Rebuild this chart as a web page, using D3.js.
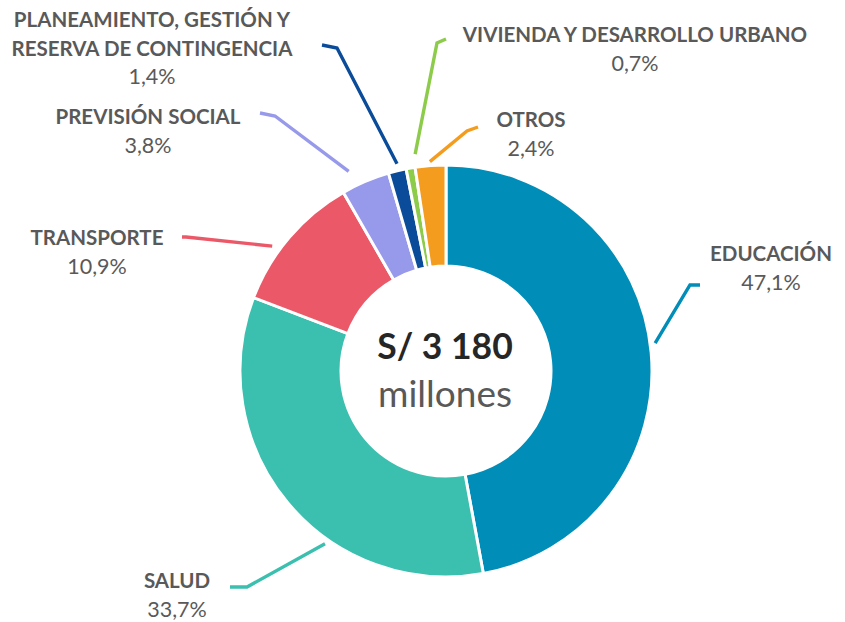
<!DOCTYPE html>
<html>
<head>
<meta charset="utf-8">
<script src="https://cdn.jsdelivr.net/npm/d3@7"></script>
<style>
  html, body { margin: 0; padding: 0; background: #fff; }
  svg { display: block; font-family: Lato, "Open Sans", sans-serif; }
</style>
</head>
<body>
<svg id="chart" width="845" height="622"></svg>
<script>
// Budget distribution by function (percent of total)
const categories = [
  "EDUCACIÓN", "SALUD", "TRANSPORTE", "PREVISIÓN SOCIAL",
  "PLANEAMIENTO, GESTIÓN Y|RESERVA DE CONTINGENCIA",
  "VIVIENDA Y DESARROLLO URBANO", "OTROS"
];
const shares = [47.1, 33.7, 10.9, 3.8, 1.4, 0.7, 2.4];
const colors = ["#008DB8", "#3BBFAF", "#EB5868", "#9799EA", "#0B4C9A", "#8DCB4A", "#F39C1E"];
const totalLabel = "S/ 3 180";
const unitLabel = "millones";

// Label placement: leader start angle (deg, clockwise from top) and radius,
// elbow point, horizontal end point, label center and first baseline.
const labelLayout = [
  { a: 82.4, r: 211, elbow: [690, 285], end: [700, 285], x: 771, y: 261 },
  { a: 215,  r: 211, elbow: [247, 587], end: [230, 587], x: 177, y: 588 },
  { a: 305.7,r: 214, elbow: [186, 237], end: [182, 237], x: 97,  y: 245 },
  { a: 334,  r: 222, elbow: [275, 116], end: [260, 113], x: 148, y: 124 },
  { a: 346.7,r: 213, elbow: [337, 48],  end: [322, 45],  x: 152, y: 27 },
  { a: 351.9,r: 219, elbow: [437, 43],  end: [446, 39],  x: 635, y: 42 },
  { a: 355.6,r: 210, elbow: [467, 131], end: [478, 127], x: 531, y: 127 }
];

const svg = d3.select("#chart");
const cx = 446, cy = 371, outerR = 206, innerR = 105;

const data = categories.map((c, i) => ({ name: c, value: shares[i], color: colors[i], layout: labelLayout[i] }));

const pie = d3.pie().sort(null).value(d => d.value);
const arc = d3.arc().innerRadius(innerR).outerRadius(outerR);

const g = svg.append("g").attr("transform", `translate(${cx},${cy})`);

g.selectAll("path.slice")
  .data(pie(data))
  .join("path")
  .attr("class", "slice")
  .attr("d", arc)
  .attr("fill", d => d.data.color)
  .attr("stroke", "#fff")
  .attr("stroke-width", 3)
  .attr("stroke-linejoin", "miter");

// Leader lines
const line = d3.line();
svg.selectAll("path.leader")
  .data(data)
  .join("path")
  .attr("class", "leader")
  .attr("d", d => {
    const L = d.layout, t = L.a * Math.PI / 180;
    const start = [cx + L.r * Math.sin(t), cy - L.r * Math.cos(t)];
    return line([start, L.elbow, L.end]);
  })
  .attr("fill", "none")
  .attr("stroke", d => d.color)
  .attr("stroke-width", 3.4);

// Category and share labels
const fmt = v => v.toFixed(1).replace(".", ",") + "%";
const lbl = svg.selectAll("g.lbl").data(data).join("g").attr("class", "lbl");
lbl.each(function(d) {
  const sel = d3.select(this);
  const lines = d.name.split("|");
  lines.forEach((t, k) => {
    sel.append("text")
      .attr("x", d.layout.x)
      .attr("y", d.layout.y + k * 28.5)
      .attr("text-anchor", "middle")
      .attr("font-weight", 700)
      .attr("font-size", 20.5)
      .attr("fill", "#595959")
      .text(t);
  });
  sel.append("text")
    .attr("x", d.layout.x)
    .attr("y", d.layout.y + lines.length * 28.5)
    .attr("text-anchor", "middle")
    .attr("font-size", 21.5)
    .attr("fill", "#595959")
    .text(fmt(d.value));
});

// Center total
svg.append("text")
  .attr("x", cx - 1).attr("y", 359)
  .attr("text-anchor", "middle")
  .attr("font-weight", 700)
  .attr("font-size", 35.5)
  .attr("fill", "#262626")
  .text(totalLabel);
svg.append("text")
  .attr("x", cx - 1).attr("y", 407)
  .attr("text-anchor", "middle")
  .attr("font-size", 37)
  .attr("fill", "#595959")
  .text(unitLabel);
</script>
</body>
</html>
